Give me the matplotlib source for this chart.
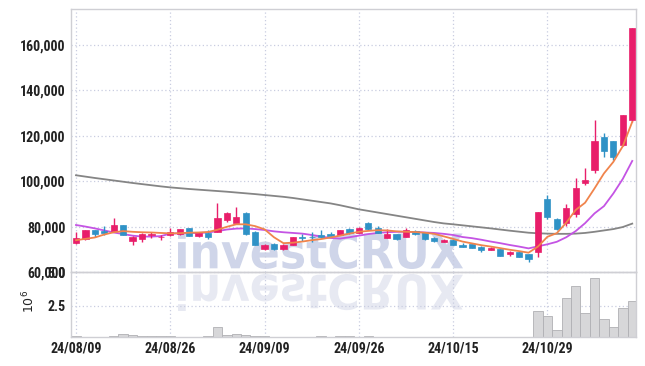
import numpy as np
import matplotlib
matplotlib.use('Agg')
import matplotlib.pyplot as plt
from matplotlib import font_manager
from matplotlib.textpath import TextPath, TextToPath
from matplotlib.patches import PathPatch
from matplotlib.font_manager import FontProperties
from matplotlib.transforms import Affine2D, IdentityTransform
from matplotlib.ticker import FuncFormatter

dates = ['24/08/09', '24/08/12', '24/08/13', '24/08/14', '24/08/16', '24/08/19', '24/08/20', '24/08/21',
         '24/08/22', '24/08/23', '24/08/26', '24/08/27', '24/08/28', '24/08/29', '24/08/30', '24/09/02',
         '24/09/03', '24/09/04', '24/09/05', '24/09/06', '24/09/09', '24/09/10', '24/09/11', '24/09/12',
         '24/09/13', '24/09/19', '24/09/20', '24/09/23', '24/09/24', '24/09/25', '24/09/26', '24/09/27',
         '24/09/30', '24/10/02', '24/10/04', '24/10/07', '24/10/08', '24/10/10', '24/10/11', '24/10/14',
         '24/10/15', '24/10/16', '24/10/17', '24/10/18', '24/10/21', '24/10/22', '24/10/23', '24/10/24',
         '24/10/25', '24/10/28', '24/10/29', '24/10/30', '24/10/31', '24/11/01', '24/11/04', '24/11/05',
         '24/11/06', '24/11/07', '24/11/08', '24/11/11']

opens = [72600, 74400, 78500, 78000, 78200, 80700, 73800, 74600, 76100, 75300,
         76300, 76600, 79200, 76000, 77000, 77700, 82900, 81700, 85800, 77700,
         70000, 72300, 70100, 71900, 75300, 75500, 76300, 76700, 76300, 78900,
         77300, 81700, 79500, 75100, 76600, 75500, 78200, 77500, 75100, 73300,
         74300, 71900, 72300, 71100, 69800, 70100, 67900, 68900, 67900, 68700,
         92000, 83200, 81500, 85400, 99300, 105100, 119300, 117600, 116100, 127100]
closes = [74800, 78500, 76600, 77300, 80700, 76300, 75500, 76600, 76700, 75500,
          77700, 78800, 76000, 77000, 75500, 83600, 85800, 84300, 76700, 71900,
          71900, 70100, 71900, 75300, 75100, 75300, 75300, 75800, 78500, 77000,
          79500, 78800, 77300, 76600, 74500, 78500, 76700, 74500, 73800, 74100,
          71900, 71100, 70700, 69700, 70700, 67200, 68900, 66700, 65700, 86200,
          84300, 78800, 88000, 96800, 100400, 117600, 113300, 110700, 129000, 167400]
highs = [77400, 78700, 78700, 80400, 83600, 80900, 76000, 77300, 77700, 76300,
         79500, 79000, 79500, 77700, 78500, 90200, 86200, 88700, 86200, 77900,
         72300, 72800, 72200, 75500, 76600, 77700, 78500, 77700, 78700, 79200,
         79800, 82100, 80200, 78800, 76800, 79200, 78500, 77700, 75500, 74400,
         74500, 72600, 72500, 71300, 70900, 70300, 69100, 69100, 68100, 86400,
         93800, 83600, 89800, 101200, 106000, 127100, 121400, 117800, 129200, 167400]
lows = [72300, 74200, 75500, 76300, 77800, 76300, 71900, 73100, 74800, 74100,
        76000, 76400, 75800, 75300, 74400, 77400, 81800, 81500, 76500, 71700,
        69600, 69900, 69900, 71700, 73800, 73300, 75000, 75300, 76100, 76800,
        77100, 78600, 77100, 74900, 74300, 75300, 76500, 74300, 73400, 73100,
        71700, 70900, 70500, 69000, 69600, 67000, 66900, 66500, 64500, 66700,
        83200, 78600, 80200, 84300, 98200, 103800, 110700, 109200, 115600, 126100]

volumes = [290000, 200000, 190000, 210000, 290000, 440000, 370000, 300000, 290000, 280000,
           290000, 210000, 200000, 220000, 290000, 960000, 390000, 440000, 370000, 300000,
           290000, 220000, 190000, 230000, 200000, 180000, 290000, 210000, 290000, 280000,
           230000, 280000, 200000, 180000, 170000, 200000, 190000, 160000, 170000, 150000,
           180000, 160000, 170000, 190000, 150000, 210000, 180000, 170000, 220000, 2110000,
           1760000, 720000, 3080000, 3970000, 1980000, 4550000, 1520000, 930000, 2340000, 2840000]

ma5 = [74000, 74600, 75200, 76500, 77500, 78000, 77700, 77500, 77400, 77200,
       77000, 77100, 77300, 77400, 77600, 78600, 79900, 81000, 81000, 80200,
       78800, 75300, 72700, 72900, 73400, 74000, 74500, 75200, 76000, 76900,
       77700, 78100, 78400, 78300, 77900, 77700, 77600, 77300, 76800, 75700,
       74600, 73400, 72600, 71800, 71200, 70500, 69800, 69200, 68500, 71200,
       75500, 77100, 81700, 87300, 90500, 96800, 103400, 108500, 115400, 126100]
ma20 = [80700, 80000, 79200, 78300, 77400, 76700, 76000, 75600, 75600, 75800,
        76900, 77000, 77100, 77200, 77400, 78000, 78700, 79100, 79200, 78900,
        78500, 77900, 77500, 77200, 76900, 76300, 75600, 75000, 74700, 75300,
        76000, 76700, 77200, 77500, 77700, 77700, 77600, 77400, 77200, 76800,
        76300, 75400, 74900, 74200, 73400, 72700, 71900, 71200, 70400, 71300,
        72200, 73300, 75300, 78000, 81500, 85800, 89000, 94600, 101000, 108900]
ma_long = [102600, 102000, 101400, 100850, 100300, 99750, 99200, 98700, 98200, 97700,
           97250, 96900, 96550, 96250, 95950, 95650, 95350, 95000, 94650, 94300,
           93900, 93500, 93100, 92600, 92000, 91400, 90800, 90200, 89400, 88500,
           87600, 86900, 86200, 85500, 84800, 84100, 83400, 82700, 82000, 81400,
           81000, 80550, 80100, 79650, 79200, 78700, 78200, 77750, 77300, 77050,
           76900, 76800, 76800, 76900, 77200, 77700, 78300, 78900, 79800, 81300]

up_col = '#e81e6a'
down_col = '#2f92c6'
grid_col = '#c9cde0'
spine_col = '#cfcfd4'
text_col = '#222222'

# pick the narrowest installed family, then size it so "160,000" is ~46 px wide
installed = {f.name for f in font_manager.fontManager.ttflist}
tick_font = None
for fam in ['Roboto Condensed', 'Noto Sans Condensed', 'Open Sans Condensed', 'Liberation Sans Narrow']:
    if fam in installed:
        tick_font = FontProperties(family=fam, weight='bold')
        break
if tick_font is None:
    tick_font = FontProperties(family='DejaVu Sans', weight='bold', stretch='condensed')
tick_font.set_size(10)
w_pt = TextToPath().get_text_width_height_descent('160,000', tick_font, ismath=False)[0]
tick_size = min(11.5, 10 * 46 / (w_pt * 100 / 72))
tick_font.set_size(tick_size)

x = np.arange(len(dates))
o = np.array(opens); c = np.array(closes)
h = np.array(highs); l = np.array(lows)
up = c >= o
cols = np.where(up, up_col, down_col)

fig = plt.figure(figsize=(6.45, 3.66), dpi=100, facecolor='white')
ax = fig.add_axes([71/645, 1-272/366, (636-71)/645, (272-9)/366])
axv = fig.add_axes([71/645, 1-337/366, (636-71)/645, (337-272)/366], sharex=ax)
for a in (ax, axv):
    a.set_facecolor('none')
    for s in a.spines.values():
        s.set_color(spine_col)
        s.set_linewidth(1.0)

# watermark with reflection
wm = TextPath((0, 0), 'investCRUX', size=100,
              prop=FontProperties(family='DejaVu Sans', weight='bold'))
bb = wm.get_extents()
sx = 285 / bb.width
sy = 37 / bb.height
t_main = Affine2D().translate(-bb.x0, -bb.y0).scale(sx, sy).translate(178, 366-269)
t_refl = Affine2D().translate(-bb.x0, -bb.y0).scale(sx, -sy).translate(178, 366-274)
fig.add_artist(PathPatch(t_main.transform_path(wm), facecolor='#cfd5e9', edgecolor='none',
                         transform=IdentityTransform(), zorder=-1))
fig.add_artist(PathPatch(t_refl.transform_path(wm), facecolor='#e7e9f2', edgecolor='none',
                         transform=IdentityTransform(), zorder=-1))

# candles
ax.vlines(x, l, h, colors=cols, linewidth=1.0, zorder=3)
body_lo = np.minimum(o, c)
body_h = np.maximum(np.abs(c - o), 250)
ax.bar(x, body_h, bottom=body_lo, width=0.66, color=cols, edgecolor=cols, linewidth=0.5, zorder=4)

ax.plot(x, ma_long, color='#858585', linewidth=1.3, zorder=2)
ax.plot(x, ma20, color='#c454e4', linewidth=1.3, zorder=2)
ax.plot(x, ma5, color='#f0844c', linewidth=1.3, zorder=5)

ax.set_xlim(-0.53, 59.4)
ax.set_ylim(60000, 175800)
ax.set_yticks([60000, 80000, 100000, 120000, 140000, 160000])
ax.yaxis.set_major_formatter(FuncFormatter(lambda v, p: f'{int(v):,}'))
tick_idx = [0, 10, 20, 30, 40, 50]
ax.set_xticks(tick_idx)
ax.grid(True, linestyle=(0, (1, 2)), color=grid_col, linewidth=0.9)
ax.tick_params(axis='x', labelbottom=False, length=0)
ax.tick_params(axis='y', length=0, pad=4, labelcolor=text_col)

# volume
axv.bar(x, volumes, width=1.0, color='#d7d7d9', edgecolor='#b0b0b4', linewidth=0.6, zorder=2)
axv.set_ylim(220000, 5000000)
axv.set_yticks([2500000, 5000000])
axv.yaxis.set_major_formatter(FuncFormatter(lambda v, p: f'{v/1e6:.1f}'))
axv.set_xticks(tick_idx)
axv.set_xticklabels([dates[i] for i in tick_idx])
axv.grid(True, linestyle=(0, (1, 2)), color=grid_col, linewidth=0.9)
axv.tick_params(axis='both', length=0, labelcolor=text_col)
axv.tick_params(axis='y', pad=4)
axv.tick_params(axis='x', pad=3)
for lab in ax.get_yticklabels() + axv.get_xticklabels() + axv.get_yticklabels():
    lab.set_fontproperties(tick_font)
axv.set_ylabel(r'$10^6$', fontsize=9, color=text_col)
axv.yaxis.set_label_coords(-0.06, 0.55)

fig.savefig('out.png', dpi=100, facecolor='white')
